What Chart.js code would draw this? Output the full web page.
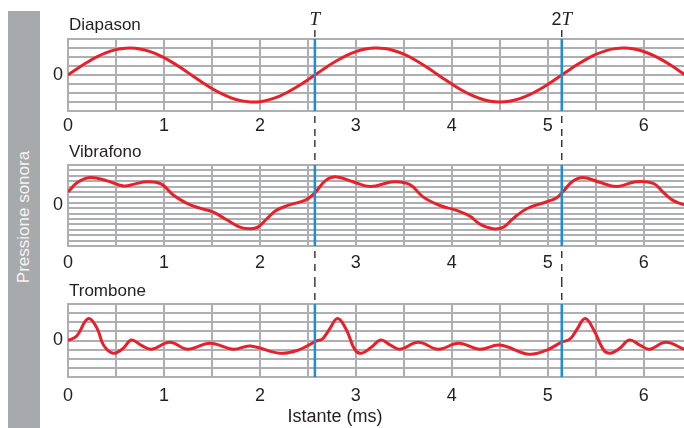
<!DOCTYPE html>
<html>
<head>
<meta charset="utf-8">
<script src="https://cdn.jsdelivr.net/npm/chart.js@4.4.1/dist/chart.umd.min.js"></script>
<style>
body { margin: 0; background: #fff; width: 684px; height: 428px; overflow: hidden; position: relative; }
canvas { position: absolute; left: 0; }
#side { position: absolute; left: 8px; top: 11px; width: 32px; height: 417px; background: #a7a9ac; }
#sideText { position: absolute; left: 24px; top: 217px; transform: translate(-50%, -50%) rotate(-90deg);
  white-space: nowrap; color: #f4f4f5; font: 17px "Liberation Sans", Arial, sans-serif; }
</style>
</head>
<body>
<div id="side"></div>
<div id="sideText">Pressione sonora</div>
<canvas id="c1" width="684" height="140" style="top:0px"></canvas>
<canvas id="c2" width="684" height="140" style="top:140px"></canvas>
<canvas id="c3" width="684" height="148" style="top:280px"></canvas>
<script>
// Sound pressure vs time for three instruments

var xTickLabels = ['0', '1', '2', '3', '4', '5', '6'];
var xAxisTitle = 'Istante (ms)';
var panelTitles = ['Diapason', 'Vibrafono', 'Trombone'];
var periodTimes = [2.573, 5.146];
var periodLabels = ['T', '2T'];

// Diapason (tuning fork)
var diaTimes = [0, 0.1, 0.2, 0.3, 0.4, 0.5, 0.6, 0.7, 0.8, 0.9, 1.0, 1.1, 1.2, 1.3, 1.4, 1.5, 1.6, 1.7, 1.8, 1.9,
    2.0, 2.1, 2.2, 2.3, 2.4, 2.5, 2.6, 2.7, 2.8, 2.9, 3.0, 3.1, 3.2, 3.3, 3.4, 3.5, 3.6, 3.7, 3.8, 3.9,
    4.0, 4.1, 4.2, 4.3, 4.4, 4.5, 4.6, 4.7, 4.8, 4.9, 5.0, 5.1, 5.2, 5.3, 5.4, 5.5, 5.6, 5.7, 5.8, 5.9,
    6.0, 6.1, 6.2, 6.3, 6.4, 6.5];
var diaValues = [0, 0.73, 1.41, 2.01, 2.49, 2.82, 2.98, 2.97, 2.78, 2.43, 1.93, 1.32, 0.63, -0.10, -0.82, -1.50, -2.08, -2.54, -2.85, -2.99,
    -2.96, -2.74, -2.37, -1.85, -1.23, -0.53, 0.20, 0.92, 1.58, 2.15, 2.59, 2.88, 3.00, 2.94, 2.70, 2.31, 1.78, 1.14, 0.43, -0.30,
    -1.01, -1.66, -2.22, -2.64, -2.91, -3.00, -2.92, -2.66, -2.24, -1.69, -1.05, -0.34, 0.39, 1.10, 1.74, 2.28, 2.68, 2.93, 3.00, 2.89,
    2.61, 2.18, 1.62, 0.96, 0.24, -0.49];

// Vibrafono
var vibTimes = [0, 0.1, 0.23, 0.4, 0.58, 0.7, 0.82, 0.97, 1.1, 1.24, 1.375, 1.51, 1.65, 1.79, 1.9, 1.98, 2.07, 2.17, 2.31, 2.485,
    2.57, 2.69, 2.8, 2.97, 3.15, 3.39, 3.56, 3.7, 3.875, 4.05, 4.19, 4.29, 4.43, 4.54, 4.64, 4.78, 4.99, 5.09, 5.16, 5.26,
    5.37, 5.54, 5.72, 5.92, 6.1, 6.2, 6.3, 6.42];
var vibValues = [2.5, 4.3, 5.2, 4.6, 3.6, 4.0, 4.4, 4.0, 1.9, 0.4, -0.5, -1.2, -2.6, -4.0, -4.3, -4.0, -2.5, -0.9, 0.1, 1.1,
    2.3, 4.7, 5.3, 4.4, 3.5, 4.4, 3.9, 1.6, 0, -0.9, -2.0, -3.4, -4.3, -4.0, -2.4, -0.6, 0.7, 1.4, 2.6, 4.5,
    5.2, 4.3, 3.5, 4.4, 4.1, 2.5, 1.0, 0.1];

// Trombone
var troTimes = [0, 0.09, 0.21, 0.30, 0.37, 0.47, 0.57, 0.66, 0.76, 0.87, 1.06, 1.25, 1.48, 1.72, 1.9, 2.21, 2.4, 2.59, 2.65, 2.72,
    2.81, 2.9, 2.99, 3.06, 3.16, 3.26, 3.36, 3.46, 3.65, 3.86, 4.07, 4.29, 4.5, 4.8, 4.99, 5.14, 5.23, 5.3, 5.39, 5.48,
    5.58, 5.65, 5.75, 5.85, 5.96, 6.06, 6.23, 6.42];
var troValues = [0, 0.5, 2.4, 1.4, -0.5, -1.4, -0.9, 0.05, -0.5, -0.95, -0.2, -0.95, -0.3, -0.95, -0.6, -1.4, -1.05, -0.05, 0.15, 1.15,
    2.4, 1.2, -1.0, -1.4, -0.75, 0.05, -0.5, -0.95, -0.2, -0.95, -0.3, -0.95, -0.5, -1.5, -1.05, -0.2, 0.15, 1.15, 2.4, 1.15,
    -1.0, -1.4, -0.85, 0.05, -0.5, -0.95, -0.2, -0.95];

// y grid lines per panel
var gridTicksA = [-4, -3, -2, -1, 0, 1, 2, 3, 4];
var gridTicksB = [-7.5, -6.5, -5.5, -4.5, -3.5, -2.5, -1.5, -0.5, 0.5, 1.5, 2.5, 3.5, 4.5, 5.5, 6.5, 7.5];

var FONT = '"Liberation Sans", Arial, sans-serif';
var TEXT = '#231f20';
var GRID = '#aeafb2';

var markerPlugin = {
    id: 'markers',
    afterDatasetsDraw: function (chart, args, opts) {
        var ctx = chart.ctx, area = chart.chartArea, xs = chart.scales.x;
        ctx.save();
        periodTimes.forEach(function (t, i) {
            var px = xs.getPixelForValue(t);
            // blue period line inside the plot
            ctx.strokeStyle = '#1b8fd2';
            ctx.lineWidth = 2.5;
            ctx.setLineDash([]);
            ctx.beginPath();
            ctx.moveTo(px, area.top);
            ctx.lineTo(px, area.bottom);
            ctx.stroke();
            // dashed black line between panels
            ctx.strokeStyle = '#231f20';
            ctx.lineWidth = 1.3;
            ctx.setLineDash([7, 6]);
            ctx.beginPath();
            ctx.moveTo(px, opts.dashTop);
            ctx.lineTo(px, area.top);
            if (opts.dashBottom) {
                ctx.moveTo(px, area.bottom + 5);
                ctx.lineTo(px, opts.dashBottom);
            }
            ctx.stroke();
            ctx.setLineDash([]);
            if (opts.showLabels) {
                var lbl = periodLabels[i];
                var num = lbl.slice(0, -1), sym = lbl.slice(-1);
                ctx.fillStyle = TEXT;
                ctx.textBaseline = 'alphabetic';
                ctx.font = '18px ' + FONT;
                var wNum = ctx.measureText(num).width;
                ctx.font = 'italic 19px "Liberation Serif", serif';
                var wSym = ctx.measureText(sym).width;
                var x0 = px - (wNum + wSym) / 2;
                ctx.textAlign = 'left';
                ctx.font = '18px ' + FONT;
                ctx.fillText(num, x0, 25);
                ctx.font = 'italic 19px "Liberation Serif", serif';
                ctx.fillText(sym, x0 + wNum, 25);
            }
        });
        // panel title
        ctx.fillStyle = TEXT;
        ctx.textAlign = 'left';
        ctx.textBaseline = 'alphabetic';
        ctx.font = '17px ' + FONT;
        ctx.fillText(opts.title, 69, opts.titleY);
        if (opts.axisTitle) {
            ctx.textAlign = 'center';
            ctx.font = '18px ' + FONT;
            ctx.fillText(opts.axisTitle, 335, opts.axisTitleY);
        }
        ctx.restore();
    }
};

function makePanel(id, times, values, yMin, yMax, gridTicks, padTop, axisHeight, labelPad, marks) {
    var points = times.map(function (t, i) { return { x: t, y: values[i] }; });
    var yTicks = gridTicks.indexOf(0) < 0 ? gridTicks.concat([0]) : gridTicks;

    return new Chart(document.getElementById(id), {
        type: 'line',
        data: {
            datasets: [{
                data: points,
                borderColor: '#e8202a',
                borderWidth: 3,
                pointRadius: 0,
                tension: 0.4,
                fill: false
            }]
        },
        options: {
            responsive: false,
            animation: false,
            devicePixelRatio: 1,
            layout: { padding: { top: padTop, left: 0, right: 0, bottom: 0 } },
            plugins: {
                legend: { display: false },
                tooltip: { enabled: false },
                markers: marks
            },
            scales: {
                x: {
                    type: 'linear',
                    min: 0,
                    max: 6.42,
                    afterFit: function (s) { s.height = axisHeight; },
                    grid: { color: GRID, lineWidth: 2, drawTicks: false },
                    border: { color: GRID, width: 2 },
                    ticks: {
                        stepSize: 0.5,
                        includeBounds: false,
                        autoSkip: false,
                        maxRotation: 0,
                        padding: labelPad,
                        color: TEXT,
                        font: { family: FONT, size: 18 },
                        callback: function (v) { return Number.isInteger(v) ? xTickLabels[v] : ''; }
                    }
                },
                y: {
                    min: yMin,
                    max: yMax,
                    afterFit: function (s) { s.width = 68; },
                    afterBuildTicks: function (s) {
                        s.ticks = yTicks.map(function (v) { return { value: v }; });
                    },
                    grid: {
                        lineWidth: 2,
                        drawTicks: false,
                        color: function (c) {
                            return c.tick && gridTicks.indexOf(c.tick.value) < 0 ? 'rgba(0,0,0,0)' : GRID;
                        }
                    },
                    border: { color: GRID, width: 2 },
                    ticks: {
                        autoSkip: false,
                        padding: 5,
                        color: TEXT,
                        font: { family: FONT, size: 18 },
                        callback: function (v) { return v === 0 ? '0' : ''; }
                    }
                }
            }
        },
        plugins: [markerPlugin]
    });
}

makePanel('c1', diaTimes, diaValues, -4, 4, gridTicksA, 39, 29, 4,
    { dashTop: 30, dashBottom: 140, showLabels: true, title: panelTitles[0], titleY: 30 });
makePanel('c2', vibTimes, vibValues, -7.5, 7.5, gridTicksB, 25, 34, 6,
    { dashTop: 0, dashBottom: 140, showLabels: false, title: panelTitles[1], titleY: 17 });
makePanel('c3', troTimes, troValues, -4, 4, gridTicksA, 24, 51, 8,
    { dashTop: 0, dashBottom: null, showLabels: false, title: panelTitles[2], titleY: 16,
      axisTitle: xAxisTitle, axisTitleY: 142 });
</script>
</body>
</html>
